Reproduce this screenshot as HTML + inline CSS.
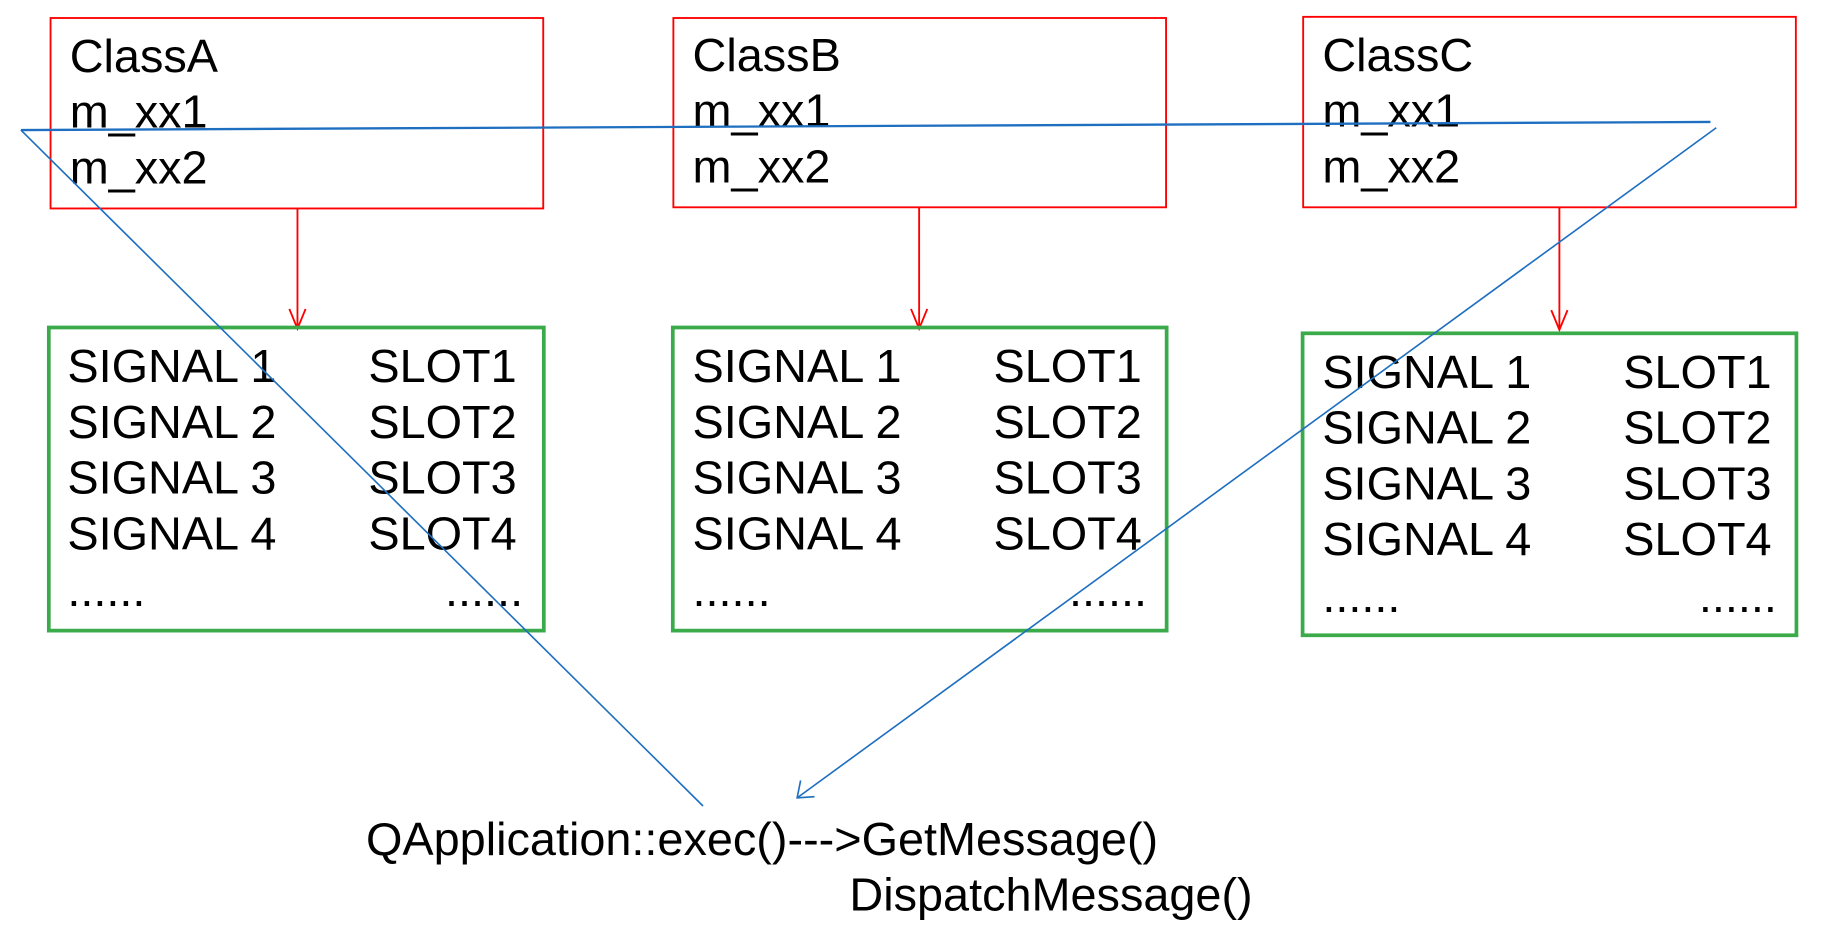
<!DOCTYPE html>
<html><head><meta charset="utf-8"><style>
html,body{margin:0;padding:0;background:#fff;width:1822px;height:950px;overflow:hidden}
svg{display:block}
text{font-family:"Liberation Sans",Arial,sans-serif;font-size:40.3px;fill:#000}
</style></head><body>
<svg width="1822" height="950" viewBox="0 0 1568 818" preserveAspectRatio="none" xmlns="http://www.w3.org/2000/svg">
<g fill="none" stroke="#f00" stroke-width="1.6">
<rect x="43.5" y="15.5" width="424" height="164"/>
<rect x="579.5" y="15.5" width="424" height="163"/>
<rect x="1121.5" y="14.5" width="424" height="164"/>
<line x1="256" y1="179" x2="256" y2="283"/>
<polyline points="249,266 256,283 263,266"/>
<line x1="791" y1="178" x2="791" y2="283"/>
<polyline points="784,266 791,283 798,266"/>
<line x1="1342" y1="178" x2="1342" y2="284"/>
<polyline points="1335,267 1342,284 1349,267"/>
</g>
<g fill="none" stroke="#3aaa4a" stroke-width="3.2">
<rect x="42" y="282" width="426" height="261"/>
<rect x="579" y="282" width="425" height="261"/>
<rect x="1121" y="287" width="425" height="260"/>
</g>
<g>
<text x="60" y="62">ClassA</text><text x="60" y="110">m_xx1</text><text x="60" y="158">m_xx2</text>
<text x="596" y="61">ClassB</text><text x="596" y="109">m_xx1</text><text x="596" y="157">m_xx2</text>
<text x="1138" y="61">ClassC</text><text x="1138" y="109">m_xx1</text><text x="1138" y="157">m_xx2</text>
</g>
<g>
<text x="58" y="329">SIGNAL 1</text><text x="58" y="377">SIGNAL 2</text><text x="58" y="425">SIGNAL 3</text><text x="58" y="473">SIGNAL 4</text><text x="58" y="522">......</text>
<text x="317" y="329">SLOT1</text><text x="317" y="377">SLOT2</text><text x="317" y="425">SLOT3</text><text x="317" y="473">SLOT4</text><text x="383" y="522">......</text>
<text x="596" y="329">SIGNAL 1</text><text x="596" y="377">SIGNAL 2</text><text x="596" y="425">SIGNAL 3</text><text x="596" y="473">SIGNAL 4</text><text x="596" y="522">......</text>
<text x="855" y="329">SLOT1</text><text x="855" y="377">SLOT2</text><text x="855" y="425">SLOT3</text><text x="855" y="473">SLOT4</text><text x="920" y="522">......</text>
<text x="1138" y="334">SIGNAL 1</text><text x="1138" y="382">SIGNAL 2</text><text x="1138" y="430">SIGNAL 3</text><text x="1138" y="478">SIGNAL 4</text><text x="1138" y="527">......</text>
<text x="1397" y="334">SLOT1</text><text x="1397" y="382">SLOT2</text><text x="1397" y="430">SLOT3</text><text x="1397" y="478">SLOT4</text><text x="1462" y="527">......</text>
</g>
<g fill="none" stroke="#1f6fc0">
<line x1="18" y1="112" x2="1472" y2="105" stroke-width="2"/>
<line x1="18" y1="112" x2="605" y2="694" stroke-width="1.4"/>
<line x1="1477" y1="110" x2="686" y2="687" stroke-width="1.4"/>
<polyline points="689,672 686,687 701,686" stroke-width="1.4"/>
</g>
<text x="315" y="736">QApplication::exec()---&gt;GetMessage()</text>
<text x="731" y="784">DispatchMessage()</text>
</svg>
</body></html>
